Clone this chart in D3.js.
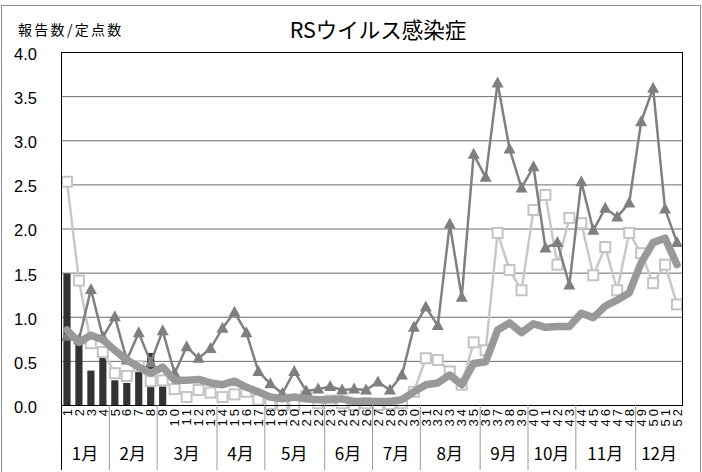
<!DOCTYPE html>
<html lang="ja">
<head>
<meta charset="utf-8">
<title>RSウイルス感染症</title>
<script src="https://cdn.jsdelivr.net/npm/d3@7"></script>
<style>
  body { margin: 0; background: #fff; }
  svg { display: block; }
  .ytick text { font-family: "Liberation Sans", Arial, sans-serif; font-size: 16.5px; fill: #000; }
  .wk text { font-family: "Liberation Sans", Arial, sans-serif; font-size: 13px; fill: #000; }
  .mon { font-family: "Noto Sans CJK JP", sans-serif; font-size: 17px; fill: #000; }
</style>
</head>
<body>
<script>
// week tick labels
var weeks = [1,2,3,4,5,6,7,8,9,10,11,12,13,14,15,16,17,18,19,20,21,22,23,24,25,26,
             27,28,29,30,31,32,33,34,35,36,37,38,39,40,41,42,43,44,45,46,47,48,49,50,51,52];
var months = ["1月","2月","3月","4月","5月","6月","7月","8月","9月","10月","11月","12月"];
var monthWeeks = [4,4,5,4,5,4,4,5,4,4,5,4];
var yTicks = [0,0.5,1,1.5,2,2.5,3,3.5,4];

// this year (bars, only weeks reported so far)
var thisYear = [1.49,0.70,0.39,0.55,0.28,0.25,0.38,0.59,0.21];
// last year (squares)
var lastYear = [2.53,1.41,0.70,0.60,0.36,0.33,0.44,0.27,0.28,0.18,0.09,0.17,0.14,0.09,0.12,0.15,0.06,0.01,0.00,0.00,
                0.10,0.02,0.05,0.02,0.00,0.02,0.00,0.01,0.02,0.15,0.53,0.51,0.38,0.23,0.71,0.62,1.95,1.53,1.30,2.21,
                2.38,1.59,2.12,2.06,1.47,1.79,1.30,1.95,1.72,1.38,1.59,1.14];
// two years ago (triangles)
var prevYear = [0.78,0.74,1.31,0.77,1.00,0.51,0.82,0.48,0.84,0.36,0.66,0.53,0.64,0.87,1.05,0.82,0.38,0.24,0.13,0.38,
                0.16,0.18,0.21,0.17,0.18,0.17,0.26,0.17,0.34,0.88,1.11,0.90,2.05,1.22,2.84,2.58,3.65,2.90,2.46,2.70,
                1.78,1.84,1.36,2.53,1.98,2.23,2.13,2.29,3.21,3.59,2.22,1.84];
// past average (thick line)
var average = [0.85,0.71,0.79,0.74,0.62,0.51,0.43,0.36,0.43,0.28,0.28,0.29,0.25,0.23,0.27,0.20,0.15,0.09,0.07,0.09,
               0.07,0.06,0.06,0.07,0.04,0.04,0.04,0.04,0.06,0.15,0.23,0.25,0.34,0.23,0.47,0.49,0.85,0.93,0.82,0.92,
               0.88,0.89,0.89,1.04,0.99,1.12,1.19,1.27,1.61,1.84,1.89,1.59];

var w = 702, h = 472;
var pLeft = 61, pRight = 683, pTop = 52, pBottom = 405;

var svg = d3.select("body").append("svg").attr("width", w).attr("height", h);

// outer frame
svg.append("rect").attr("x", 1.5).attr("y", 5.5).attr("width", w - 3).attr("height", h)
  .attr("fill", "none").attr("stroke", "#8c8c8c");

var x = d3.scaleBand().domain(weeks).range([pLeft, pRight]).paddingInner(0.4).paddingOuter(0.2);
var xi = d3.scaleLinear().domain([0, weeks.length]).range([pLeft, pRight]);
var y = d3.scaleLinear().domain([0, 4]).range([pBottom, pTop]);
var cx = function(d, i) { return x(weeks[i]) + x.bandwidth() / 2; };

// grid
svg.append("g").attr("transform", "translate(" + pLeft + ",0)")
  .call(d3.axisLeft(y).tickValues(yTicks.slice(1, -1)).tickSize(-(pRight - pLeft)).tickFormat(""))
  .call(function(g) { g.select(".domain").remove(); g.selectAll("line").attr("stroke", "#6e6e6e"); });

// y labels
svg.append("g").attr("class", "ytick").attr("transform", "translate(" + pLeft + ",0)")
  .call(d3.axisLeft(y).tickValues(yTicks).tickSize(0).tickPadding(24).tickFormat(d3.format(".1f")))
  .call(function(g) { g.select(".domain").remove(); g.selectAll("text").attr("dy", "0.45em"); });

// bars
svg.append("g").selectAll("rect").data(thisYear).enter().append("rect")
  .attr("x", function(d, i) { return x(weeks[i]); })
  .attr("y", function(d) { return y(d); })
  .attr("width", x.bandwidth())
  .attr("height", function(d) { return y(0) - y(d); })
  .attr("fill", "#333333");

var line = d3.line().x(cx).y(function(d) { return y(d); });

// last year: squares
svg.append("path").datum(lastYear).attr("d", line)
  .attr("fill", "none").attr("stroke", "#c8c8c8").attr("stroke-width", 2.5);
svg.append("g").selectAll("rect").data(lastYear).enter().append("rect")
  .attr("x", function(d, i) { return cx(d, i) - 5; })
  .attr("y", function(d) { return y(d) - 5; })
  .attr("width", 10).attr("height", 10)
  .attr("fill", "#fff").attr("stroke", "#c4c4c4").attr("stroke-width", 2);

// two years ago: triangles
svg.append("path").datum(prevYear).attr("d", line)
  .attr("fill", "none").attr("stroke", "#808080").attr("stroke-width", 2.5);
svg.append("g").selectAll("path").data(prevYear).enter().append("path")
  .attr("transform", function(d, i) { return "translate(" + cx(d, i) + "," + y(d) + ")"; })
  .attr("d", "M0,-6.5L6,4.5L-6,4.5Z")
  .attr("fill", "#7f7f7f");

// average: thick line
svg.append("path").datum(average).attr("d", line)
  .attr("fill", "none").attr("stroke", "#999999").attr("stroke-width", 7.5)
  .attr("stroke-linejoin", "round").attr("stroke-linecap", "round");

// plot frame
svg.append("rect").attr("x", pLeft + 0.5).attr("y", pTop + 0.5)
  .attr("width", pRight - pLeft - 1).attr("height", pBottom - pTop)
  .attr("fill", "none").attr("stroke", "#000");

// week labels
svg.append("g").attr("class", "wk").attr("transform", "translate(0," + pBottom + ")")
  .call(d3.axisBottom(x).tickSize(0).tickPadding(0))
  .call(function(g) {
    g.select(".domain").remove();
    g.selectAll("text").attr("transform", "rotate(-90)").attr("text-anchor", "end")
      .attr("x", -1).attr("y", 0).attr("dy", "0.36em").attr("letter-spacing", "3px");
  });

// month bands
var cum = [0];
monthWeeks.forEach(function(n, i) { cum.push(cum[i] + n); });
svg.append("g").selectAll("line").data(cum.slice(0, -1)).enter().append("line")
  .attr("x1", function(d) { return xi(d) + 0.5; }).attr("x2", function(d) { return xi(d) + 0.5; })
  .attr("y1", pBottom).attr("y2", h - 2)
  .attr("stroke", function(d, i) { return i === 0 ? "#000" : "#9a9a9a"; });
svg.append("g").selectAll("text").data(months).enter().append("text")
  .attr("class", "mon")
  .attr("x", function(d, i) { return xi(cum[i] + monthWeeks[i] / 2); })
  .attr("y", 460)
  .attr("text-anchor", "middle")
  .text(function(d) { return d; });

// titles
svg.append("text").attr("x", 378).attr("y", 38).attr("text-anchor", "middle")
  .style("font-family", "'Noto Sans CJK JP', sans-serif").style("font-size", "21.5px")
  .text("RSウイルス感染症");
svg.append("text").attr("x", 18).attr("y", 35)
  .style("font-family", "'Noto Sans CJK JP', sans-serif").style("font-size", "14px")
  .attr("letter-spacing", "2.3px")
  .text("報告数/定点数");
</script>
</body>
</html>
